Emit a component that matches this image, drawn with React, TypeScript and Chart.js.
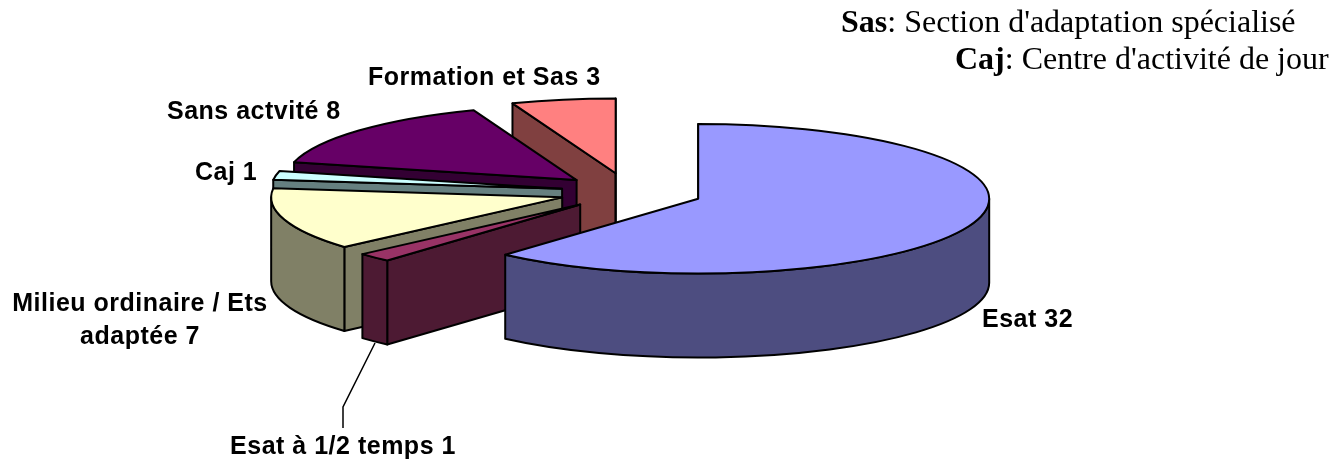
import React, { useEffect, useRef } from "react";
import { Chart, registerables } from "chart.js";

Chart.register(...registerables);

const categories = ["Esat", "Esat à 1/2 temps", "Milieu ordinaire / Ets adaptée", "Caj", "Sans actvité", "Formation et Sas"];
const values = [32, 1, 7, 1, 8, 3];
const topColors = ["#9999FF", "#993366", "#FFFFCC", "#CCFFFF", "#660066", "#FF8080"];
const wallColors = ["#4D4D80", "#4D1A33", "#808066", "#668080", "#330033", "#804040"];
const explode = [74, 69, 70, 68, 70, 74];

const W = 1344;
const H = 461;
const RADIUS = 291;
const SQUASH = 0.257;
const DEPTH = 84;
const CENTER_X = 629;
const CENTER_Y = 192;
const LABEL_FONT = 'bold 25px "Liberation Sans", Arial, sans-serif';
const NOTE_SIZE = 32;

// label lines per slice: [text, x, y, align]
const labelLayout: [string, number, number, CanvasTextAlign][][] = [
  [[`${categories[0]} ${values[0]}`, 982, 320, "left"]],
  [[`${categories[1]} ${values[1]}`, 343, 447, "center"]],
  [["Milieu ordinaire / Ets", 140, 304, "center"], [`adaptée ${values[2]}`, 140, 337, "center"]],
  [[`${categories[3]} ${values[3]}`, 195, 173, "left"]],
  [[`${categories[4]} ${values[4]}`, 167, 112, "left"]],
  [[`${categories[5]} ${values[5]}`, 368, 78, "left"]],
];
const leader = [[375, 343], [343, 407], [343, 428]];
const notes: [string, string, number, number][] = [
  ["Sas", ": Section d'adaptation spécialisé", 841, 24],
  ["Caj", ": Centre d'activité de jour", 955, 61],
];

const pie3d = {
  id: "pie3d",
  beforeDatasetsDraw(chart: any) {
    const ctx: CanvasRenderingContext2D = chart.ctx;
    const arcs = chart.getDatasetMeta(0).data;
    ctx.save();
    ctx.lineWidth = 2;
    ctx.strokeStyle = "#000";
    ctx.lineJoin = "round";
    for (let i = arcs.length - 1; i >= 0; i--) {
      const arc = arcs[i];
      const a0 = arc.startAngle;
      const a1 = arc.endAngle;
      const h = (a0 + a1) / 2;
      const ex = Math.cos(h) * explode[i];
      const ey = Math.sin(h) * explode[i];
      const r = arc.outerRadius;
      const cx = arc.x + ex;
      const cy = CENTER_Y + ey * SQUASH;
      const ry = r * SQUASH;
      const wall = wallColors[i];

      // radial walls that face the viewer
      const faces: number[] = [];
      if (Math.cos(a0) < 1e-6) faces.push(a0);
      if (Math.cos(a1) > -1e-6) faces.push(a1);
      for (const a of faces) {
        const px = cx + Math.cos(a) * r;
        const py = cy + Math.sin(a) * ry;
        ctx.beginPath();
        ctx.moveTo(cx, cy);
        ctx.lineTo(px, py);
        ctx.lineTo(px, py + DEPTH);
        ctx.lineTo(cx, cy + DEPTH);
        ctx.closePath();
        ctx.fillStyle = wall;
        ctx.fill();
        ctx.stroke();
      }

      // curved outer wall, front half only
      const w0 = Math.max(a0, 0);
      const w1 = Math.min(a1, Math.PI);
      if (w1 > w0) {
        ctx.beginPath();
        ctx.ellipse(cx, cy, r, ry, 0, w0, w1, false);
        ctx.ellipse(cx, cy + DEPTH, r, ry, 0, w1, w0, true);
        ctx.closePath();
        ctx.fillStyle = wall;
        ctx.fill();
        ctx.stroke();
      }

      // top face, drawn by the library's own arc element
      ctx.save();
      ctx.translate(ex, cy);
      ctx.scale(1, SQUASH);
      ctx.translate(0, -arc.y);
      arc.draw(ctx);
      ctx.restore();

      ctx.beginPath();
      ctx.moveTo(cx, cy);
      ctx.ellipse(cx, cy, r, ry, 0, a0, a1, false);
      ctx.closePath();
      ctx.stroke();
    }
    ctx.restore();
    return false;
  },
  afterDraw(chart: any) {
    const ctx: CanvasRenderingContext2D = chart.ctx;
    ctx.save();
    ctx.strokeStyle = "#000";
    ctx.lineWidth = 1.5;
    ctx.beginPath();
    leader.forEach(([x, y], i) => (i ? ctx.lineTo(x, y) : ctx.moveTo(x, y)));
    ctx.stroke();

    ctx.fillStyle = "#000";
    ctx.textBaseline = "middle";
    ctx.font = LABEL_FONT;
    (ctx as any).letterSpacing = "0.5px";
    for (const lines of labelLayout) {
      for (const [text, x, y, align] of lines) {
        ctx.textAlign = align;
        ctx.fillText(text, x, y);
      }
    }
    (ctx as any).letterSpacing = "0px";
    ctx.textAlign = "left";
    for (const [head, rest, x, y] of notes) {
      ctx.font = `bold ${NOTE_SIZE}px "Liberation Serif", "Times New Roman", serif`;
      ctx.fillText(head, x, y);
      const w = ctx.measureText(head).width;
      ctx.font = `${NOTE_SIZE}px "Liberation Serif", "Times New Roman", serif`;
      ctx.fillText(rest, x + w, y);
    }
    ctx.restore();
  },
};

export default function App() {
  const ref = useRef<HTMLCanvasElement>(null);
  useEffect(() => {
    document.body.style.margin = "0";
    document.body.style.background = "#fff";
    const chart = new Chart(ref.current as HTMLCanvasElement, {
      type: "pie",
      data: {
        labels: categories,
        datasets: [
          {
            data: values,
            backgroundColor: topColors,
            borderWidth: 0,
          },
        ],
      },
      options: {
        responsive: false,
        animation: false,
        radius: RADIUS,
        layout: { padding: { left: 0, top: 0, bottom: 0, right: W - 2 * CENTER_X } },
        plugins: { legend: { display: false }, tooltip: { enabled: false } },
      } as any,
      plugins: [pie3d as any],
    });
    return () => chart.destroy();
  }, []);
  return <canvas ref={ref} width={W} height={H} style={{ display: "block" }} />;
}
